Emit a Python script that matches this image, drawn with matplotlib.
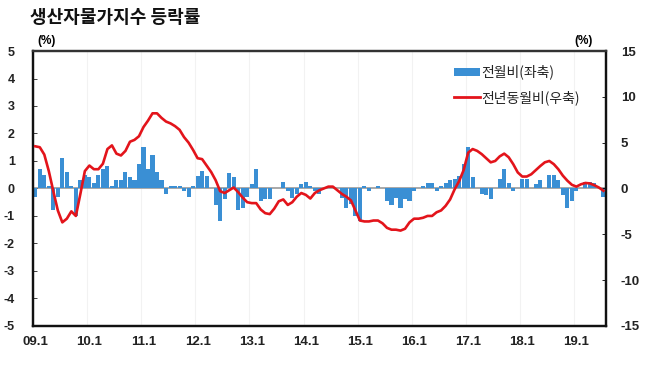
import matplotlib
matplotlib.use("Agg")
import matplotlib.pyplot as plt
from matplotlib.patches import Patch
from matplotlib.lines import Line2D
import numpy as np

plt.rcParams['font.family'] = ['Noto Sans CJK KR', 'DejaVu Sans']
plt.rcParams['axes.unicode_minus'] = False

title = "생산자물가지수 등락률"
label_mom = "전월비(좌축)"
label_yoy = "전년동월비(우축)"
xtick_labels = ["09.1", "10.1", "11.1", "12.1", "13.1", "14.1", "15.1",
                "16.1", "17.1", "18.1", "19.1"]

# month-over-month change (%), 2009.01 - 2019.07, left axis
mom = [
    -0.3, 0.7, 0.5, 0.1, -0.8, -0.3, 1.1, 0.6, 0.1, -1.0, 0.3, 0.5,      # 2009
    0.4, 0.2, 0.5, 0.7, 0.8, 0.1, 0.3, 0.3, 0.6, 0.4, 0.3, 0.9,          # 2010
    1.5, 0.7, 1.2, 0.6, 0.3, -0.2, 0.1, 0.1, 0.1, -0.1, -0.3, 0.1,       # 2011
    0.45, 0.65, 0.45, 0.0, -0.6, -1.2, -0.4, 0.55, 0.4, -0.8, -0.7, -0.3,  # 2012
    0.15, 0.7, -0.45, -0.4, -0.4, 0.0, 0.0, 0.25, -0.1, -0.35, -0.2, 0.15,  # 2013
    0.25, 0.1, -0.1, -0.2, 0.0, 0.0, 0.0, 0.0, -0.35, -0.7, -0.55, -1.0,   # 2014
    -1.2, 0.1, -0.1, 0.0, 0.1, 0.0, -0.45, -0.6, -0.35, -0.7, -0.4, -0.45,  # 2015
    -0.1, 0.0, 0.1, 0.2, 0.2, -0.1, 0.1, 0.2, 0.3, 0.35, 0.45, 0.9,       # 2016
    1.5, 0.4, 0.0, -0.2, -0.25, -0.4, 0.0, 0.36, 0.7, 0.2, -0.1, 0.0,     # 2017
    0.36, 0.36, 0.0, 0.15, 0.3, 0.0, 0.5, 0.5, 0.3, -0.25, -0.7, -0.45,   # 2018
    -0.1, 0.0, 0.25, 0.25, 0.2, 0.0, -0.3,                                # 2019
]

# year-over-year change (%), right axis
yoy = [
    4.6, 4.5, 3.7, 1.9, -0.3, -2.4, -3.7, -3.3, -2.5, -3.0, -0.6, 1.9,    # 2009
    2.5, 2.1, 2.1, 2.7, 4.3, 4.7, 3.8, 3.6, 4.1, 5.1, 5.3, 5.7,           # 2010
    6.7, 7.4, 8.2, 8.2, 7.7, 7.3, 7.1, 6.8, 6.4, 5.6, 5.0, 4.2,           # 2011
    3.3, 3.2, 2.5, 1.8, 0.9, -0.3, -0.5, -0.2, 0.1, -0.4, -1.0, -1.5,     # 2012
    -1.6, -1.6, -2.3, -2.7, -2.8, -2.2, -1.4, -1.2, -1.8, -1.5, -0.9, -0.5,  # 2013
    -0.7, -1.1, -0.5, -0.2, 0.0, 0.2, 0.2, -0.2, -0.6, -0.9, -1.3, -2.4,  # 2014
    -3.5, -3.6, -3.6, -3.5, -3.5, -3.8, -4.3, -4.5, -4.5, -4.6, -4.4, -3.7,  # 2015
    -3.3, -3.3, -3.2, -3.0, -3.0, -2.6, -2.4, -1.9, -1.2, -0.1, 0.8, 2.0,  # 2016
    3.9, 4.3, 4.1, 3.75, 3.3, 2.85, 3.0, 3.5, 3.8, 3.4, 2.65, 1.75,       # 2017
    1.3, 1.3, 1.55, 2.0, 2.45, 2.85, 3.0, 2.65, 2.1, 1.4, 0.85, 0.4,      # 2018
    0.2, 0.45, 0.6, 0.55, 0.35, 0.1, -0.25,                               # 2019
]

bar_color = "#3a8fd4"
line_color = "#e3141b"
num_font = ['Liberation Sans', 'DejaVu Sans']

fig = plt.figure(figsize=(6.5, 3.67), dpi=100)
ax = fig.add_axes([0.0508, 0.112, 0.881, 0.749])
x = np.arange(len(mom))

ax.bar(x, mom, width=0.9, color=bar_color, zorder=2)
ax.axhline(0, color="#a8a8a8", lw=1.4, zorder=1)
ax.set_xlim(-0.5, len(mom) - 0.5)
ax.set_ylim(-5, 5)
ax.set_yticks(range(-5, 6))
ax.set_xticks(np.arange(0, len(mom), 12))
ax.set_xticklabels(xtick_labels)
for xv in np.arange(0, len(mom), 12):
    ax.axvline(xv - 0.5, color="#f2f2f2", lw=0.8, zorder=0)

ax2 = ax.twinx()
ax2.plot(x, yoy, color=line_color, lw=1.9, zorder=3)
ax2.set_ylim(-15, 15)
ax2.set_yticks(range(-15, 16, 5))

for a in (ax, ax2):
    for s in a.spines.values():
        s.set_linewidth(1.6)
        s.set_color("#111111")
    a.spines['top'].set_color("#333333")

ax.tick_params(axis='y', direction='in', length=3, width=0.6, pad=13,
               labelsize=9, colors="#222222")
ax.tick_params(axis='x', length=0, pad=7, labelsize=9.5)
ax2.tick_params(axis='y', direction='in', length=3, width=0.6, pad=11,
                labelsize=9.5)
for lab in ax.get_yticklabels() + ax.get_xticklabels() + ax2.get_yticklabels():
    lab.set_fontweight('bold')
    lab.set_family(num_font)
    lab.set_color("#222222")

fig.text(0.046, 0.953, title, fontsize=13, fontweight='bold',
         ha='left', va='center', color="#111111")
fig.text(0.057, 0.888, "(%)", fontsize=8.5, fontweight='bold',
         ha='left', va='center', family=num_font)
fig.text(0.884, 0.888, "(%)", fontsize=8.5, fontweight='bold',
         ha='left', va='center', family=num_font)

handles = [Patch(facecolor=bar_color, edgecolor='none'),
           Line2D([0], [0], color=line_color, lw=2)]
leg = ax2.legend(handles, [label_mom, label_yoy], loc='upper left',
                 bbox_to_anchor=(0.725, 0.97), frameon=False, fontsize=10,
                 handlelength=1.9, handleheight=0.55, handletextpad=0.1,
                 labelspacing=0.75, borderaxespad=0)
for t in leg.get_texts():
    t.set_color("#222222")

fig.savefig("out.png", dpi=100)
